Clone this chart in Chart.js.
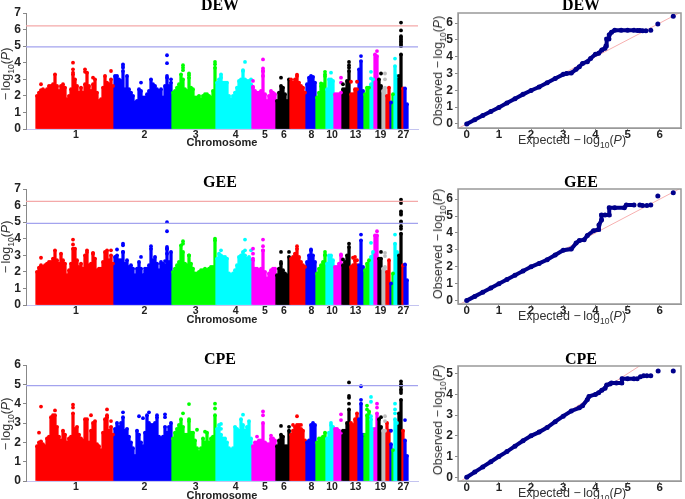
<!DOCTYPE html>
<html>
<head>
<meta charset="utf-8">
<style>
  body { margin: 0; background: #fff; overflow: hidden; }
  #page { position: relative; width: 685px; height: 499px; overflow: hidden; }
  canvas { position: absolute; }
  .lbl { position: absolute; white-space: nowrap; transform: translate(-50%, -50%); }
  .title { font: bold 16px "Liberation Serif"; color: #000; }
  .chrom { font: bold 11px "Liberation Sans"; color: #222; }
  .axis { font: 12.5px "Liberation Sans"; color: #333; }
  .rot { transform: translate(-50%, -50%) rotate(-90deg); }
  sub { font-size: 8.5px; line-height: 0; }
</style>
</head>
<body>
<div id="page"></div>
<script src="https://cdn.jsdelivr.net/npm/chart.js@4/dist/chart.umd.min.js"></script>
<script>
"use strict";

// chromosome layout (number of 2px columns per chromosome)
const chromSizes = [39, 29, 22, 18, 12, 7, 8, 5, 5, 4, 4, 4, 4, 3, 3, 2, 2, 2, 2, 2, 1, 1, 2, 0, 2, 1, 2];
const chromColors = ['#ff0000', '#0000ff', '#00ff00', '#00ffff', '#ff00ff', '#000000', '#ff0000', '#0000ff', '#00ff00',
    '#00ffff', '#ff00ff', '#000000', '#ff0000', '#0000ff', '#00ff00', '#00ffff', '#ff00ff', '#000000', '#bebebe',
    '#ff0000', '#0000ff', '#00ff00', '#00ffff', '#ff00ff', '#000000', '#ff0000', '#0000ff'];
const chromTickLabels = ['1', '2', '3', '4', '5', '6', '8', '10', '13', '19', '27'];
const chromTickBins = [19.5, 53.7, 79.3, 99.3, 114, 123.5, 137.2, 147.5, 159.3, 171.8, 183.2];

// top of the solid mass in each column
const dewTops = [
    2.0, 2.2, 2.35, 2.4, 2.3, 2.4, 2.6, 2.6, 2.7, 3.3, 2.6, 2.3, 2.6, 2.7, 2.5, 1.8, 2.0, 2.4, 3.3, 3.0, 2.6, 2.2, 2.5, 2.2, 2.7, 3.4, 2.6, 2.3, 2.7, 3.0, 2.2, 1.7, 1.8, 2.5, 3.2, 2.8, 2.7, 3.0, 2.6,
    3.2, 3.2, 3.0, 2.9, 3.5, 2.4, 3.2, 2.4, 2.2, 2.0, 1.6, 1.7, 2.4, 2.3, 1.9, 1.9, 2.1, 2.3, 3.0, 2.7, 2.6, 2.4, 2.3, 2.4, 1.9, 2.6, 3.1, 2.6, 2.8,
    2.2, 2.3, 2.5, 2.7, 3.3, 3.0, 2.4, 2.3, 3.1, 2.5, 2.4, 1.9, 1.9, 2.0, 1.8, 2.0, 2.1, 2.1, 2.0, 1.9, 2.3, 3.7,
    2.8, 3.0, 3.1, 2.8, 2.8, 2.8, 2.0, 1.8, 2.0, 2.2, 2.5, 2.9, 3.0, 3.5, 3.0, 2.9, 2.9, 2.7,
    2.5, 2.3, 2.2, 2.2, 2.3, 3.5, 2.1, 1.7, 2.0, 2.3, 2.2, 2.1,
    1.7, 2.2, 2.6, 2.5, 2.1, 1.7, 3.0,
    3.0, 2.8, 3.0, 3.2, 2.8, 2.6, 2.5, 2.2,
    2.7, 3.1, 3.2, 3.15, 2.8,
    1.9, 2.2, 2.6, 2.7, 3.2,
    2.4, 3.0, 3.0, 2.9,
    2.1, 2.1, 2.1, 2.2,
    2.4, 2.4, 2.9, 3.5,
    2.1, 2.1, 2.4, 2.4,
    3.6, 4.1, 2.3,
    2.1, 2.5, 2.5,
    2.7, 3.0,
    4.5, 4.4,
    3.0, 2.6,
    2.3, 2.5,
    2.0, 2.5,
    1.6,
    2.1,
    3.8, 3.2,
    3.2, 4.5,
    2.45,
    2.45, 1.5
];
const geeTops = [
    2.0, 2.25, 2.4, 2.3, 2.4, 2.5, 2.6, 2.6, 2.8, 3.3, 2.7, 2.5, 3.1, 2.7, 2.5, 1.8, 2.1, 2.5, 3.4, 3.4, 2.7, 2.3, 2.5, 2.2, 3.0, 3.2, 2.4, 2.5, 3.1, 2.8, 2.1, 2.2, 2.2, 2.6, 3.2, 3.3, 2.7, 3.0, 2.5,
    2.9, 3.0, 2.7, 2.7, 3.2, 2.5, 2.7, 2.3, 2.4, 2.2, 1.8, 2.2, 2.6, 2.2, 1.8, 1.9, 2.2, 2.4, 3.4, 2.7, 2.9, 2.5, 2.1, 2.5, 2.5, 2.4, 3.4, 2.6, 3.2,
    2.0, 2.2, 2.4, 2.6, 3.6, 3.2, 2.5, 2.4, 3.0, 2.5, 2.2, 1.9, 1.9, 2.0, 2.1, 2.1, 2.2, 2.1, 2.2, 2.3, 2.3, 3.9,
    2.8, 3.1, 3.0, 2.9, 2.9, 2.8, 1.9, 1.8, 1.9, 2.1, 2.4, 2.9, 3.0, 3.2, 3.0, 2.8, 2.9, 2.7,
    2.7, 2.2, 2.2, 2.1, 2.2, 3.3, 2.0, 1.6, 1.9, 2.1, 2.2, 2.2,
    1.8, 2.2, 2.5, 2.1, 1.9, 1.8, 2.9,
    2.8, 2.9, 3.1, 3.4, 2.9, 2.6, 2.4, 2.3,
    2.6, 3.0, 3.3, 3.0, 2.6,
    1.9, 2.2, 2.4, 2.6, 3.0,
    2.5, 3.0, 3.0, 2.7,
    2.3, 2.3, 2.5, 3.0,
    2.4, 2.6, 3.0, 3.5,
    2.3, 2.4, 2.7, 2.4,
    2.4, 3.9, 2.3,
    2.1, 2.5, 2.7,
    2.9, 3.2,
    4.2, 4.2,
    2.8, 2.8,
    2.2, 2.3,
    2.0, 2.7,
    1.3,
    1.9,
    3.7, 3.2,
    3.0, 4.3,
    2.4,
    2.45, 1.5
];
const cpeTops = [
    1.8, 2.0, 2.05, 1.9, 1.8, 2.2, 2.3, 3.3, 3.4, 3.4, 2.8, 2.3, 2.1, 2.6, 2.4, 2.0, 2.2, 2.3, 3.5, 2.7, 2.8, 2.4, 2.2, 2.1, 3.2, 3.2, 2.0, 2.6, 3.0, 3.1, 1.9, 1.8, 1.6, 2.5, 3.2, 3.4, 2.6, 2.8, 2.4,
    2.7, 3.0, 2.8, 3.0, 3.3, 2.6, 2.7, 2.3, 2.0, 1.7, 1.3, 2.6, 2.4, 2.0, 1.8, 2.5, 3.4, 3.0, 2.9, 2.9, 3.0, 3.3, 2.3, 2.2, 2.3, 2.8, 2.5, 2.8, 3.0,
    2.2, 2.5, 2.7, 2.9, 3.2, 2.8, 2.4, 2.4, 3.1, 2.5, 2.5, 2.1, 1.7, 1.5, 1.7, 2.2, 2.0, 2.5, 2.0, 2.2, 2.3, 3.4,
    2.7, 2.9, 2.4, 2.2, 2.2, 2.0, 1.7, 1.6, 1.7, 2.8, 2.7, 2.6, 3.2, 2.9, 2.6, 2.8, 3.1, 2.2,
    1.8, 2.0, 2.0, 2.1, 2.1, 3.0, 2.0, 1.9, 1.9, 2.2, 2.2, 2.1,
    1.8, 2.1, 2.4, 2.3, 1.8, 1.8, 2.6,
    2.4, 2.6, 2.8, 2.9, 2.9, 2.7, 2.6, 2.1,
    2.0, 2.1, 2.9, 3.0, 2.9,
    2.0, 2.2, 2.2, 2.3, 2.5,
    2.2, 2.5, 2.9, 2.8,
    2.7, 2.7, 2.6, 2.5,
    2.6, 2.6, 3.0, 3.7,
    3.0, 2.9, 3.2, 3.5,
    3.2, 4.0, 2.4,
    2.4, 3.4, 3.6,
    3.2, 2.7,
    2.7, 3.5,
    3.2, 2.8,
    2.6, 2.6,
    3.0, 2.6,
    1.9,
    1.6,
    3.2, 3.0,
    3.5, 4.2,
    2.6,
    2.1, 1.3
];

// isolated points above the mass: column, value
const dewPeakBins = [2, 18, 18, 18, 24, 24, 28, 37, 43, 43, 43, 52, 65, 65, 65, 67, 73, 73, 73, 76, 76, 89, 89, 92, 92, 103, 104, 107, 108, 108, 113, 113, 113, 113, 122, 130, 142, 144, 144, 147, 152, 152, 153, 156, 156, 156, 157, 160, 162, 167, 167, 170, 172, 174, 174, 179, 182, 182, 182, 182, 182, 182, 182, 182, 182];
const dewPeakVals = [2.7, 4.0, 3.6, 3.4, 3.6, 3.45, 3.1, 3.5, 3.9, 3.8, 3.7, 2.8, 4.45, 3.97, 3.2, 3.0, 3.85, 3.7, 3.55, 3.35, 3.25, 4.05, 3.9, 3.3, 3.2, 3.55, 4.05, 3.0, 2.9, 2.55, 4.2, 3.65, 3.5, 3.2, 3.1, 3.28, 2.75, 3.45, 3.3, 3.4, 3.1, 2.8, 2.7, 4.05, 3.85, 3.7, 2.85, 2.85, 4.4, 3.45, 3.05, 4.7, 3.35, 3.35, 3.0, 4.25, 6.42, 5.95, 5.6, 5.5, 5.4, 5.3, 5.2, 5.1, 5.0];
const geePeakBins = [2, 18, 18, 25, 28, 37, 40, 43, 43, 43, 52, 54, 54, 57, 62, 64, 65, 65, 65, 65, 65, 73, 73, 76, 89, 92, 104, 104, 107, 108, 108, 108, 113, 113, 113, 122, 122, 126, 130, 137, 144, 144, 152, 153, 156, 158, 159, 160, 162, 167, 170, 172, 174, 174, 179, 182, 182, 182, 182, 182, 182, 182, 182, 182];
const geePeakVals = [2.85, 3.95, 3.65, 3.3, 3.15, 3.3, 3.35, 3.7, 3.6, 3.2, 2.9, 2.2, 2.05, 3.55, 2.6, 2.65, 5.0, 4.45, 3.5, 3.4, 3.1, 3.85, 3.7, 3.0, 4.0, 3.3, 3.95, 3.3, 3.3, 3.4, 3.1, 2.8, 3.95, 3.55, 3.3, 3.2, 2.6, 3.2, 3.55, 3.35, 3.2, 3.05, 3.05, 2.75, 3.7, 2.85, 2.9, 2.7, 4.25, 3.75, 4.45, 3.2, 3.15, 2.95, 4.25, 6.35, 6.15, 5.65, 5.55, 5.45, 5.05, 4.95, 4.75, 4.6];
const cpePeakBins = [1, 2, 9, 18, 18, 27, 35, 35, 37, 43, 51, 53, 56, 60, 64, 64, 73, 76, 76, 80, 84, 89, 89, 92, 92, 103, 110, 113, 113, 117, 122, 126, 128, 130, 132, 147, 152, 152, 156, 156, 156, 156, 162, 162, 165, 165, 167, 167, 167, 170, 170, 172, 174, 174, 177, 179, 179, 179, 182, 182, 182, 182, 182, 182, 184];
const cpePeakVals = [2.5, 3.85, 3.65, 3.95, 3.8, 3.4, 3.7, 3.3, 3.1, 3.55, 3.35, 3.25, 3.55, 3.4, 3.45, 3.3, 3.5, 3.98, 3.2, 2.65, 2.55, 4.0, 3.75, 2.95, 2.7, 3.43, 2.3, 3.6, 3.4, 2.35, 2.85, 2.8, 2.9, 3.35, 2.9, 3.0, 3.45, 3.15, 5.1, 4.4, 4.3, 4.0, 4.9, 4.2, 3.9, 3.7, 4.35, 4.1, 3.35, 4.0, 3.8, 3.3, 3.35, 3.1, 2.6, 4.0, 3.7, 3.5, 5.15, 5.0, 4.9, 4.75, 4.65, 4.55, 3.15];

// significance lines
const dewLines = [6.22, 4.95];
const geeLines = [6.25, 4.93];
const cpeLines = [4.93];

// QQ curves
const dewExpected = [0, 0.25, 0.5, 0.75, 1, 1.25, 1.5, 1.75, 2, 2.25, 2.5, 2.75, 3, 3.1, 3.25, 3.4, 3.5, 3.6, 3.75, 3.85, 4, 4.1, 4.2, 4.3, 4.33, 4.35, 4.42, 4.43, 4.5, 4.6, 4.8, 5.0, 5.2, 5.3, 5.38, 5.47, 5.57, 5.72, 5.94, 6.42];
const dewObserved = [0, 0.25, 0.5, 0.74, 0.98, 1.24, 1.5, 1.76, 1.99, 2.2, 2.45, 2.7, 2.95, 3.0, 3.03, 3.25, 3.4, 3.6, 3.7, 3.9, 4.15, 4.2, 4.4, 4.5, 4.65, 5.05, 5.05, 5.3, 5.45, 5.57, 5.57, 5.57, 5.57, 5.56, 5.56, 5.55, 5.55, 5.57, 5.95, 6.41];
const geeExpected = [0, 0.25, 0.5, 0.75, 1, 1.25, 1.5, 1.75, 2, 2.25, 2.5, 2.75, 3, 3.25, 3.4, 3.5, 3.65, 3.75, 3.94, 4.09, 4.11, 4.19, 4.19, 4.3, 4.43, 4.43, 4.6, 4.9, 4.96, 5.2, 5.38, 5.47, 5.6, 5.72, 5.94, 6.42];
const geeObserved = [0, 0.25, 0.5, 0.75, 1, 1.25, 1.5, 1.75, 2, 2.2, 2.42, 2.7, 2.98, 3.05, 3.4, 3.55, 3.6, 3.85, 4.13, 4.2, 4.47, 4.76, 5.06, 5.06, 5.06, 5.49, 5.49, 5.49, 5.65, 5.65, 5.65, 5.62, 5.62, 5.65, 6.18, 6.38];
const cpeExpected = [0, 0.25, 0.5, 0.75, 1, 1.25, 1.5, 1.75, 2, 2.25, 2.5, 2.75, 3, 3.25, 3.5, 3.6, 3.75, 3.8, 4, 4.1, 4.2, 4.3, 4.35, 4.45, 4.5, 4.65, 4.82, 4.83, 5.0, 5.2, 5.3, 5.4, 5.5, 5.6, 5.72, 5.95, 6.42];
const cpeObserved = [0, 0.25, 0.5, 0.75, 1, 1.24, 1.5, 1.76, 2, 2.18, 2.4, 2.68, 2.95, 3.2, 3.35, 3.45, 3.75, 3.9, 4.0, 4.08, 4.2, 4.3, 4.45, 4.5, 4.55, 4.55, 4.55, 4.75, 4.75, 4.75, 4.75, 4.85, 4.9, 4.9, 4.9, 5.13, 5.13];

const page = document.getElementById('page');

function addLabel(text, cls, x, y) {
    const el = document.createElement('div');
    el.className = 'lbl ' + cls;
    el.innerHTML = text;
    el.style.left = x + 'px';
    el.style.top = y + 'px';
    page.appendChild(el);
}

function addCanvas(left, top, width, height) {
    const c = document.createElement('canvas');
    c.width = width;
    c.height = height;
    c.style.left = left + 'px';
    c.style.top = top + 'px';
    page.appendChild(c);
    return c;
}

// one colour per column, taken from the chromosome it falls in
function binColors() {
    let out = [];
    chromSizes.forEach(function (n, i) {
        for (let k = 0; k < n; k++) out.push(chromColors[i]);
    });
    return out;
}

function manhattan(top, padTop, tops, peakBins, peakVals, lines, yMax, yTicks) {
    const colors = binColors();
    const xMin = -5.5, xMax = 190.5;
    const datasets = [];

    lines.forEach(function (v) {
        datasets.push({
            type: 'line',
            data: [{ x: xMin, y: v }, { x: xMax, y: v }],
            borderColor: (v > 5.5) ? '#f4a9a9' : '#a3a3ee',
            borderWidth: 1.2,
            pointRadius: 0,
            order: 0
        });
    });
    datasets.push({
        type: 'bar',
        data: tops.map(function (v, i) { return { x: i, y: v }; }),
        backgroundColor: colors,
        barThickness: 2.6,
        order: 3
    });
    datasets.push({
        type: 'line',
        showLine: false,
        data: tops.map(function (v, i) { return { x: i, y: v }; }),
        pointBackgroundColor: colors,
        pointBorderWidth: 0,
        pointRadius: 1.9,
        order: 2,
        clip: false
    });
    datasets.push({
        type: 'line',
        showLine: false,
        data: peakBins.map(function (b, i) { return { x: b, y: peakVals[i] }; }),
        pointBackgroundColor: peakBins.map(function (b) { return colors[b]; }),
        pointBorderWidth: 0,
        pointRadius: 1.9,
        order: 1,
        clip: false
    });

    new Chart(addCanvas(0, top, 425, 151), {
        data: { datasets: datasets },
        options: {
            responsive: false,
            animation: false,
            layout: { padding: { top: padTop, right: 7, left: 0, bottom: 0 } },
            plugins: { legend: { display: false }, tooltip: { enabled: false } },
            scales: {
                x: {
                    type: 'linear',
                    offset: false,
                    min: xMin,
                    max: xMax,
                    afterFit: function (s) { s.height = 151 - padTop - 116; },
                    afterBuildTicks: function (a) { a.ticks = chromTickBins.map(function (v) { return { value: v }; }); },
                    grid: { offset: false, drawOnChartArea: false, drawTicks: false },
                    border: { color: '#c4c4f0' },
                    ticks: {
                        autoSkip: false,
                        maxRotation: 0,
                        padding: 0,
                        color: '#222',
                        font: { family: 'Liberation Sans', weight: 'bold', size: 10.5 },
                        callback: function (v, i) { return chromTickLabels[i]; }
                    }
                },
                y: {
                    min: 0,
                    max: yMax,
                    afterFit: function (s) { s.width = 26; },
                    afterBuildTicks: function (a) { a.ticks = yTicks.map(function (v) { return { value: v }; }); },
                    grid: { drawOnChartArea: false, color: '#888', tickLength: 3 },
                    border: { color: '#888' },
                    ticks: {
                        autoSkip: false,
                        padding: 2,
                        color: '#222',
                        font: { family: 'Liberation Sans', weight: 'bold', size: 12 }
                    }
                }
            }
        }
    });
}

const qqFrame = {
    id: 'qqFrame',
    afterDraw: function (chart) {
        const a = chart.chartArea, ctx = chart.ctx;
        ctx.save();
        ctx.strokeStyle = '#999';
        ctx.lineWidth = 1.5;
        ctx.strokeRect(a.left, a.top, a.right - a.left, a.bottom - a.top);
        ctx.restore();
    }
};

function qq(top, padTop, expected, observed, yMin, yMax, yTicks) {
    const navy = '#00008b';
    new Chart(addCanvas(425, top, 260, 150), {
        type: 'scatter',
        data: {
            datasets: [
                {
                    data: expected.map(function (v, i) { return { x: v, y: observed[i] }; }),
                    showLine: true,
                    borderColor: navy,
                    borderWidth: 4,
                    pointBackgroundColor: navy,
                    pointBorderWidth: 0,
                    pointRadius: 2.5,
                    segment: {
                        borderColor: function (ctx) { return (ctx.p1.parsed.x - ctx.p0.parsed.x > 0.09) && ctx.p0.parsed.x > 5 ? 'rgba(0,0,0,0)' : navy; }
                    },
                    order: 1
                },
                {
                    data: [{ x: -1, y: -1 }, { x: 7, y: 7 }],
                    showLine: true,
                    borderColor: '#f7b0b0',
                    borderWidth: 1,
                    pointRadius: 0,
                    order: 2
                }
            ]
        },
        plugins: [qqFrame],
        options: {
            responsive: false,
            animation: false,
            layout: { padding: { top: padTop, right: 1, left: 0, bottom: 0 } },
            plugins: { legend: { display: false }, tooltip: { enabled: false } },
            scales: {
                x: {
                    min: -0.27,
                    max: 6.66,
                    afterFit: function (s) { s.height = 150 - padTop - 115; },
                    afterBuildTicks: function (a) { a.ticks = [0, 1, 2, 3, 4, 5, 6].map(function (v) { return { value: v }; }); },
                    grid: { drawOnChartArea: false, color: '#888', tickLength: 2 },
                    border: { color: '#999' },
                    ticks: {
                        autoSkip: false,
                        maxRotation: 0,
                        padding: -2,
                        color: '#222',
                        font: { family: 'Liberation Sans', weight: 'bold', size: 11.5 }
                    }
                },
                y: {
                    min: yMin,
                    max: yMax,
                    afterFit: function (s) { s.width = 33; },
                    afterBuildTicks: function (a) { a.ticks = yTicks.map(function (v) { return { value: v }; }); },
                    grid: { drawOnChartArea: false, color: '#888', tickLength: 3 },
                    border: { color: '#999' },
                    ticks: {
                        autoSkip: false,
                        padding: 2,
                        color: '#222',
                        font: { family: 'Liberation Sans', weight: 'bold', size: 12 }
                    }
                }
            }
        }
    });
}

const logLabel = '&minus;&thinsp;log<sub>10</sub>(<i>P</i>)';

manhattan(0, 13, dewTops, dewPeakBins, dewPeakVals, dewLines, 7, [0, 1, 2, 3, 4, 5, 6, 7]);
manhattan(176, 13, geeTops, geePeakBins, geePeakVals, geeLines, 7, [0, 1, 2, 3, 4, 5, 6, 7]);
manhattan(352, 13, cpeTops, cpePeakBins, cpePeakVals, cpeLines, 6, [0, 1, 2, 3, 4, 5, 6]);

qq(0, 13, dewExpected, dewObserved, -0.24, 6.6, [0, 1, 2, 3, 4, 5, 6]);
qq(176, 13, geeExpected, geeObserved, -0.2, 6.6, [0, 1, 2, 3, 4, 5, 6]);
qq(352, 14, cpeExpected, cpeObserved, -0.18, 5.37, [0, 1, 2, 3, 4, 5]);

// titles and axis names (subscripts need real markup)
[['DEW', 5, 74, 142, 71, 140], ['GEE', 182, 247, 319, 244, 316], ['CPE', 359, 424, 495, 420, 493]].forEach(function (p) {
    addLabel(p[0], 'title', 220, p[1]);
    addLabel(p[0], 'title', 581, p[1]);
    addLabel(logLabel, 'axis rot', 6, p[2]);
    addLabel('Chromosome', 'chrom', 222, p[3]);
    addLabel('Observed ' + logLabel, 'axis rot', 438, p[4]);
    addLabel('Expected ' + logLabel, 'axis', 572, p[5]);
});
</script>
</body>
</html>
